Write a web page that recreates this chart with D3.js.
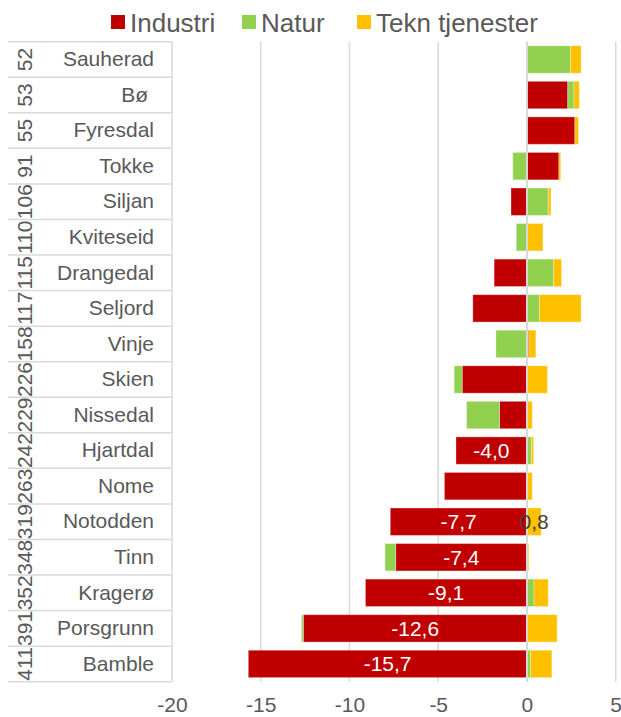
<!DOCTYPE html>
<html>
<head>
<meta charset="utf-8">
<script src="https://cdn.jsdelivr.net/npm/d3@7"></script>
<style>
  body { margin: 0; background: #fff; }
  svg { font-family: "Liberation Sans", Arial, sans-serif; }
</style>
</head>
<body>
<svg id="chart" width="621" height="717"></svg>
<script>
// data
var names = ["Sauherad","Bø ","Fyresdal","Tokke","Siljan","Kviteseid","Drangedal","Seljord","Vinje",
             "Skien","Nissedal","Hjartdal","Nome","Notodden","Tinn","Kragerø","Porsgrunn","Bamble"];
var ranks = ["52","53","55","91","106","110","115","117","158","226","229","242","263","319","348","352","391","411"];
var industri = [0, 2.3, 2.7, 1.8, -0.9, 0, -1.85, -3.05, 0.1, -3.65, -1.55, -4.0, -4.65, -7.7, -7.4, -9.1, -12.6, -15.7];
var natur = [2.45, 0.35, 0, -0.8, 1.2, -0.6, 1.5, 0.7, -1.75, -0.45, -1.85, 0.25, 0, 0, -0.6, 0.4, -0.1, 0.2];
var tekn = [0.6, 0.3, 0.2, 0.1, 0.15, 0.9, 0.45, 2.35, 0.4, 1.15, 0.3, 0.12, 0.3, 0.8, 0.1, 0.8, 1.7, 1.2];
var seriesNames = ["Industri", "Natur", "Tekn tjenester"];
var seriesColors = ["#C00000", "#92D050", "#FFC000"];
var xTicks = [-20, -15, -10, -5, 0, 5];
// which bars carry a value label
var labelled = [
  {key: "Industri", names: ["Hjartdal","Notodden","Tinn","Kragerø","Porsgrunn","Bamble"], color: "#ffffff"},
  {key: "Tekn tjenester", names: ["Notodden"], color: "#404040"}
];

var rows = names.map(function(n, i){
  return {name: n, rank: ranks[i], "Industri": industri[i], "Natur": natur[i], "Tekn tjenester": tekn[i]};
});

var svg = d3.select("#chart");
var plotTop = 41.7, plotBottom = 681.7;

var xScale = d3.scaleLinear().domain([-20, 5]).range([172, 615.7]);
var yScale = d3.scaleBand().domain(names).range([plotTop, plotBottom])
               .paddingInner(0.23).paddingOuter(0.115);
var color = d3.scaleOrdinal().domain(seriesNames).range(seriesColors);
// norwegian style numbers: comma decimal, plain hyphen
var locale = d3.formatLocale({decimal: ",", thousands: " ", grouping: [3], currency: ["", " kr"], minus: "-"});
var fmt = locale.format(".1f");
var fmtTick = locale.format("d");

// gridlines
svg.append("g")
   .selectAll("line")
   .data(xTicks)
   .join("line")
   .attr("x1", function(d){ return xScale(d); })
   .attr("x2", function(d){ return xScale(d); })
   .attr("y1", plotTop).attr("y2", plotBottom)
   .attr("stroke", "#d9d9d9")
   .attr("stroke-width", 1.5);

// stacked bars, negatives go left
var stacked = d3.stack().keys(seriesNames).offset(d3.stackOffsetDiverging)(rows);
svg.append("g")
   .selectAll("g")
   .data(stacked)
   .join("g")
   .attr("fill", function(d){ return color(d.key); })
   .selectAll("rect")
   .data(function(d){ return d; })
   .join("rect")
   .attr("x", function(d){ return xScale(Math.min(d[0], d[1])); })
   .attr("width", function(d){ return Math.abs(xScale(d[1]) - xScale(d[0])); })
   .attr("y", function(d){ return yScale(d.data.name); })
   .attr("height", yScale.bandwidth())
   .attr("stroke", "#ffffff")
   .attr("stroke-opacity", 0.3)
   .attr("stroke-width", 1);

// zero line sits over the bars
svg.append("line")
   .attr("x1", xScale(0)).attr("x2", xScale(0))
   .attr("y1", plotTop).attr("y2", plotBottom)
   .attr("stroke", "#d9d9d9")
   .attr("stroke-width", 2);

// value labels
labelled.forEach(function(l){
  var layer = stacked.find(function(s){ return s.key === l.key; });
  svg.append("g")
     .selectAll("text")
     .data(layer.filter(function(d){ return l.names.indexOf(d.data.name) >= 0; }))
     .join("text")
     .attr("x", function(d){ return (xScale(d[0]) + xScale(d[1])) / 2; })
     .attr("y", function(d){ return yScale(d.data.name) + yScale.bandwidth() / 2 + 7.5; })
     .attr("text-anchor", "middle")
     .attr("font-size", 21)
     .attr("fill", l.color)
     .text(function(d){ return fmt(d.data[l.key]); });
});

// category table on the left
var step = yScale.step();
var bounds = d3.range(names.length + 1).map(function(i){ return plotTop + i * step; });
svg.append("g")
   .selectAll("line")
   .data(bounds)
   .join("line")
   .attr("x1", 8).attr("x2", xScale(-20))
   .attr("y1", function(d){ return d; })
   .attr("y2", function(d){ return d; })
   .attr("stroke", "#d9d9d9")
   .attr("stroke-width", 1.5);

var yAxis = d3.axisLeft(yScale).tickSize(0).tickPadding(18);
var yg = svg.append("g")
   .attr("transform", "translate(" + xScale(-20) + ",0)")
   .call(yAxis);
yg.select(".domain").remove();
yg.selectAll("text")
  .attr("font-size", 21)
  .attr("font-family", "Liberation Sans, Arial, sans-serif")
  .attr("fill", "#595959")
  .style("white-space", "pre");

// rank numbers, rotated
svg.append("g")
   .selectAll("text")
   .data(rows)
   .join("text")
   .attr("transform", function(d){
      return "translate(32," + (yScale(d.name) + yScale.bandwidth() / 2) + ") rotate(-90)";
   })
   .attr("text-anchor", "middle")
   .attr("font-size", 21)
   .attr("fill", "#595959")
   .text(function(d){ return d.rank; });

// x axis labels
var xAxis = d3.axisBottom(xScale).tickValues(xTicks).tickFormat(fmtTick).tickSize(0).tickPadding(15);
var xg = svg.append("g")
   .attr("transform", "translate(0," + plotBottom + ")")
   .call(xAxis);
xg.select(".domain").remove();
xg.selectAll("text")
  .attr("font-size", 21)
  .attr("font-family", "Liberation Sans, Arial, sans-serif")
  .attr("fill", "#595959");

// legend
var legendX = [111, 242, 357];
var legend = svg.append("g")
   .selectAll("g")
   .data(seriesNames)
   .join("g")
   .attr("transform", function(d, i){ return "translate(" + legendX[i] + ",0)"; });
legend.append("rect")
   .attr("x", 0).attr("y", 15)
   .attr("width", 14).attr("height", 14)
   .attr("fill", function(d){ return color(d); });
legend.append("text")
   .attr("x", 19).attr("y", 32)
   .attr("font-size", 26)
   .attr("fill", "#595959")
   .text(function(d){ return d; });
</script>
</body>
</html>
